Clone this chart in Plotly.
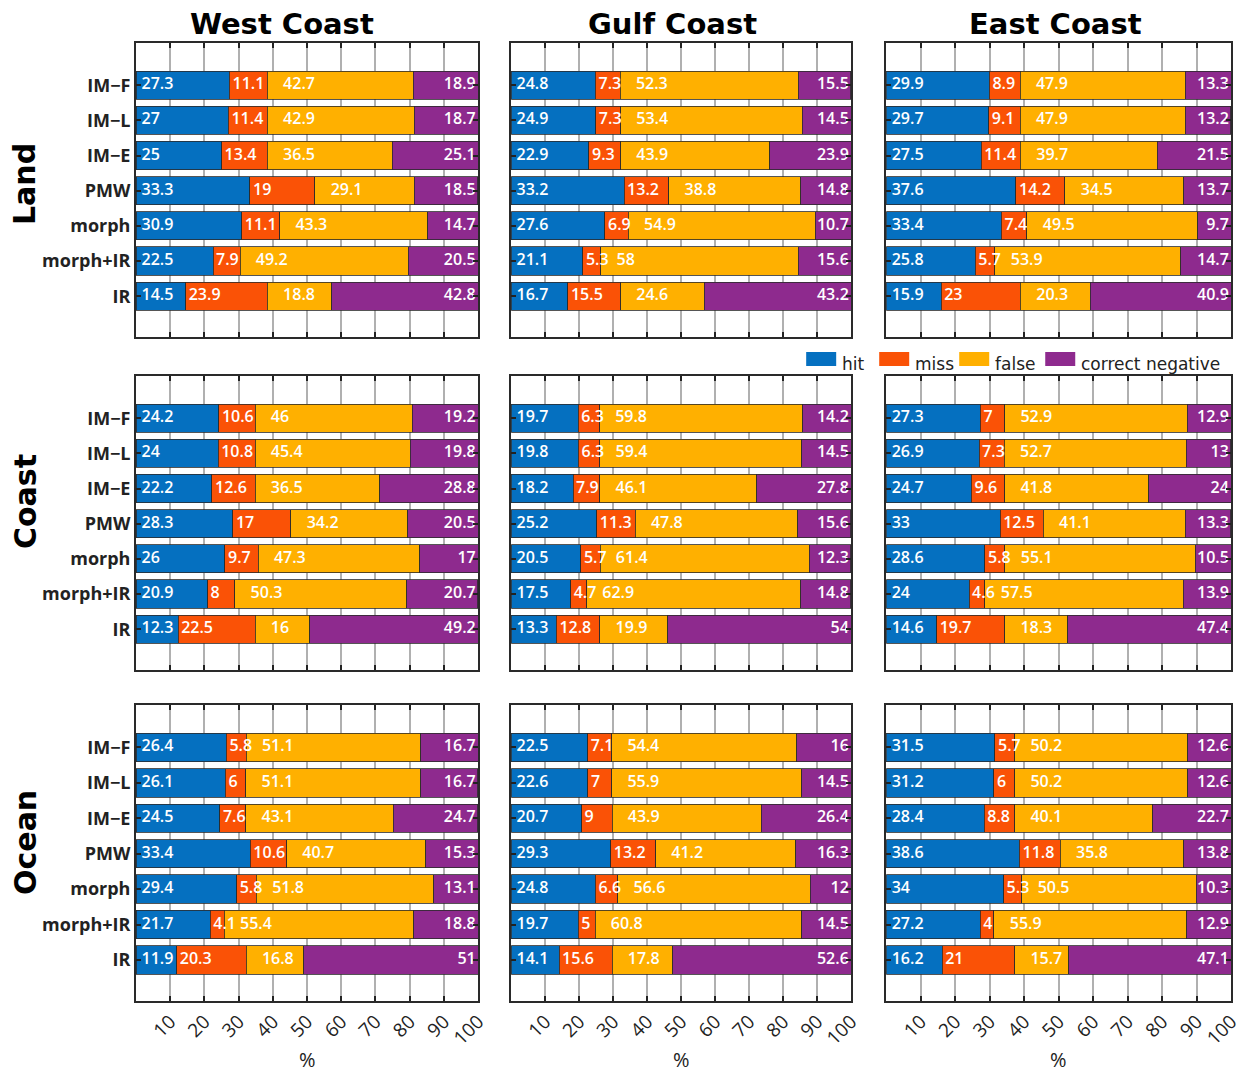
import plotly.graph_objects as go

# Precipitation detection outcomes (%) per product, region and surface type
methods = ["IM−F", "IM−L", "IM−E", "PMW", "morph", "morph+IR", "IR"]
regions = ["West Coast", "Gulf Coast", "East Coast"]
surfaces = ["Land", "Coast", "Ocean"]
outcomes = ["hit", "miss", "false", "correct negative"]
colors = ["#0570C0", "#FA5206", "#FFB000", "#8E2A8E"]
x_ticks = [10, 20, 30, 40, 50, 60, 70, 80, 90, 100]

# rows follow `methods`; columns: hit, miss, false, correct negative
land_west = [[27.3, 11.1, 42.7, 18.9], [27, 11.4, 42.9, 18.7], [25, 13.4, 36.5, 25.1],
             [33.3, 19, 29.1, 18.5], [30.9, 11.1, 43.3, 14.7], [22.5, 7.9, 49.2, 20.5],
             [14.5, 23.9, 18.8, 42.8]]
land_gulf = [[24.8, 7.3, 52.3, 15.5], [24.9, 7.3, 53.4, 14.5], [22.9, 9.3, 43.9, 23.9],
             [33.2, 13.2, 38.8, 14.8], [27.6, 6.9, 54.9, 10.7], [21.1, 5.3, 58, 15.6],
             [16.7, 15.5, 24.6, 43.2]]
land_east = [[29.9, 8.9, 47.9, 13.3], [29.7, 9.1, 47.9, 13.2], [27.5, 11.4, 39.7, 21.5],
             [37.6, 14.2, 34.5, 13.7], [33.4, 7.4, 49.5, 9.7], [25.8, 5.7, 53.9, 14.7],
             [15.9, 23, 20.3, 40.9]]
coast_west = [[24.2, 10.6, 46, 19.2], [24, 10.8, 45.4, 19.8], [22.2, 12.6, 36.5, 28.8],
              [28.3, 17, 34.2, 20.5], [26, 9.7, 47.3, 17], [20.9, 8, 50.3, 20.7],
              [12.3, 22.5, 16, 49.2]]
coast_gulf = [[19.7, 6.3, 59.8, 14.2], [19.8, 6.3, 59.4, 14.5], [18.2, 7.9, 46.1, 27.8],
              [25.2, 11.3, 47.8, 15.6], [20.5, 5.7, 61.4, 12.3], [17.5, 4.7, 62.9, 14.8],
              [13.3, 12.8, 19.9, 54]]
coast_east = [[27.3, 7, 52.9, 12.9], [26.9, 7.3, 52.7, 13], [24.7, 9.6, 41.8, 24],
              [33, 12.5, 41.1, 13.3], [28.6, 5.8, 55.1, 10.5], [24, 4.6, 57.5, 13.9],
              [14.6, 19.7, 18.3, 47.4]]
ocean_west = [[26.4, 5.8, 51.1, 16.7], [26.1, 6, 51.1, 16.7], [24.5, 7.6, 43.1, 24.7],
              [33.4, 10.6, 40.7, 15.3], [29.4, 5.8, 51.8, 13.1], [21.7, 4.1, 55.4, 18.8],
              [11.9, 20.3, 16.8, 51]]
ocean_gulf = [[22.5, 7.1, 54.4, 16], [22.6, 7, 55.9, 14.5], [20.7, 9, 43.9, 26.4],
              [29.3, 13.2, 41.2, 16.3], [24.8, 6.6, 56.6, 12], [19.7, 5, 60.8, 14.5],
              [14.1, 15.6, 17.8, 52.6]]
ocean_east = [[31.5, 5.7, 50.2, 12.6], [31.2, 6, 50.2, 12.6], [28.4, 8.8, 40.1, 22.7],
              [38.6, 11.8, 35.8, 13.8], [34, 5.3, 50.5, 10.3], [27.2, 4, 55.9, 12.9],
              [16.2, 21, 15.7, 47.1]]

panels = [[land_west, land_gulf, land_east],
          [coast_west, coast_gulf, coast_east],
          [ocean_west, ocean_gulf, ocean_east]]

W, H = 1253, 1072
col_px = [(137, 479), (512, 852), (887, 1232)]
row_px = [(43, 337), (376, 670), (705, 1001)]


def fx(px):
    """Horizontal pixel position -> paper fraction."""
    return min(1.0, max(0.0, (px - 1) / (0.991 * W)))


def fy(px):
    """Vertical pixel position (from top) -> paper fraction."""
    return 1 - px / H


def fmt(v):
    return f"{v:g}"


fig = go.Figure()
layout = dict(
    width=W, height=H, autosize=False, margin=dict(l=0, r=0, t=0, b=0, pad=0),
    paper_bgcolor="white", plot_bgcolor="white",
    barmode="stack", showlegend=False,
)

label_font = dict(family="Open Sans", size=16, color="white", weight=600)

for r in range(3):
    for c in range(3):
        idx = r * 3 + c + 1
        xa = "x" if idx == 1 else f"x{idx}"
        ya = "y" if idx == 1 else f"y{idx}"
        table = panels[r][c]
        cols = list(zip(*table))  # hit, miss, false, cn

        for k in range(4):
            fig.add_trace(go.Bar(
                x=list(cols[k]), y=methods, orientation="h", width=0.8,
                marker=dict(color=colors[k], line=dict(color="#2a2a2a", width=0.8)),
                name=outcomes[k], xaxis=xa, yaxis=ya, hoverinfo="skip",
            ))

        hit, miss, fal, cn = cols
        starts = [
            [1.6] * 7,
            [h + 0.9 for h in hit],
            [h + m + 4.6 for h, m in zip(hit, miss)],
        ]
        for k in range(3):
            fig.add_trace(go.Scatter(
                x=starts[k], y=methods, mode="text", text=[fmt(v) for v in cols[k]],
                textposition="middle right", textfont=label_font,
                xaxis=xa, yaxis=ya, hoverinfo="skip", cliponaxis=False,
            ))
        fig.add_trace(go.Scatter(
            x=[99.3] * 7, y=methods, mode="text", text=[fmt(v) for v in cn],
            textposition="middle left", textfont=label_font,
            xaxis=xa, yaxis=ya, hoverinfo="skip", cliponaxis=False,
        ))

        x0, x1 = col_px[c]
        y0, y1 = row_px[r]
        xkey = "xaxis" if idx == 1 else f"xaxis{idx}"
        ykey = "yaxis" if idx == 1 else f"yaxis{idx}"
        layout[xkey] = dict(
            domain=[fx(x0), fx(x1)], anchor=ya, range=[0, 100],
            tickvals=x_ticks, ticktext=[str(t) for t in x_ticks],
            showticklabels=(r == 2), tickangle=-45,
            tickfont=dict(family="Open Sans", size=19, color="#222"),
            ticks="inside", ticklen=5, tickcolor="#222", tickwidth=1.5,
            showgrid=True, gridcolor="#b0b0b0", gridwidth=1.5,
            showline=True, mirror="allticks", linecolor="#2a2a2a", linewidth=2,
            zeroline=False, fixedrange=True,
        )
        layout[ykey] = dict(
            domain=[fy(y1), fy(y0)], anchor=xa,
            type="category", categoryorder="array", categoryarray=methods,
            range=[6 + 1.16, -1.2],
            showticklabels=(c == 0),
            tickfont=dict(family="Open Sans", size=18, color="#222", weight=700),
            ticks="inside", ticklen=5, tickcolor="#222", tickwidth=1.5,
            showgrid=False, showline=True, mirror="allticks",
            linecolor="#2a2a2a", linewidth=2, zeroline=False, fixedrange=True,
        )

annotations = []
title_x = [283, 673, 1056]
for c, name in enumerate(regions):
    annotations.append(dict(
        text=f"<b>{name}</b>", x=fx(title_x[c]), y=fy(24), xref="paper", yref="paper",
        showarrow=False, xanchor="center", yanchor="middle",
        font=dict(family="DejaVu Sans", size=29, color="black"),
    ))
    annotations.append(dict(
        text="%", x=fx(sum(col_px[c]) / 2), y=fy(1059), xref="paper", yref="paper",
        showarrow=False, xanchor="center", yanchor="middle",
        font=dict(family="Open Sans", size=20, color="#222"),
    ))

row_y = [184, 502, 843]
for r, name in enumerate(surfaces):
    annotations.append(dict(
        text=f"<b>{name}</b>", x=fx(26), y=fy(row_y[r]), xref="paper", yref="paper",
        showarrow=False, xanchor="center", yanchor="middle", textangle=-90,
        font=dict(family="DejaVu Sans", size=30, color="black"),
    ))

# legend drawn as swatches with labels
shapes = []
sw_x = [807, 880, 960, 1046]
for k, name in enumerate(outcomes):
    shapes.append(dict(
        type="rect", xref="paper", yref="paper",
        x0=fx(sw_x[k]), x1=fx(sw_x[k] + 30), y0=fy(366), y1=fy(352),
        fillcolor=colors[k], line=dict(width=0),
    ))
    annotations.append(dict(
        text=name, x=fx(sw_x[k] + 34), y=fy(364), xref="paper", yref="paper",
        showarrow=False, xanchor="left", yanchor="middle",
        font=dict(family="DejaVu Sans", size=17, color="#222"),
    ))

layout["annotations"] = annotations
layout["shapes"] = shapes
fig.update_layout(**layout)

fig.write_html("out.html", config={"responsive": False})
